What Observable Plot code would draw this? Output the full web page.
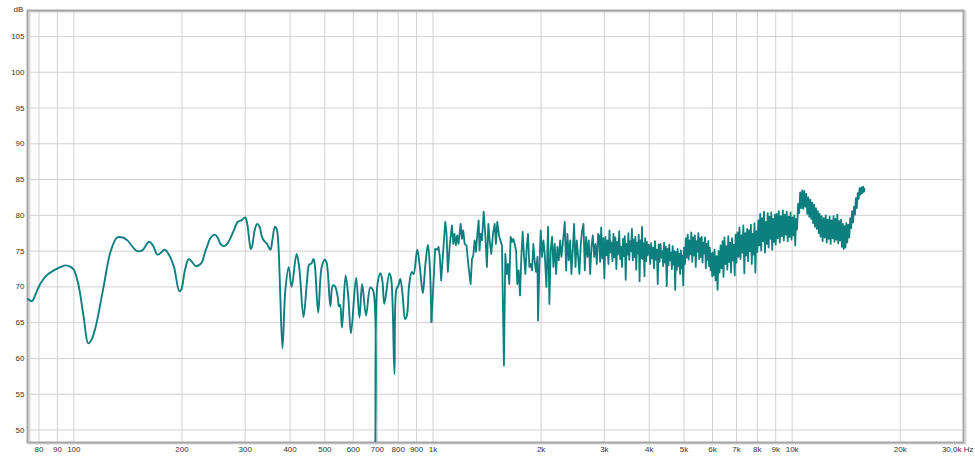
<!DOCTYPE html>
<html><head><meta charset="utf-8">
<script src="https://cdn.jsdelivr.net/npm/d3@7"></script>
<script src="https://cdn.jsdelivr.net/npm/@observablehq/plot@0.6"></script>
<style>html,body{margin:0;padding:0;background:#fff}</style>
</head><body><div id="chart"></div>
<script>
// Tick values and labels
const xTicks = [80,90,100,200,300,400,500,600,700,800,900,1000,2000,3000,4000,5000,6000,7000,8000,9000,10000,20000,30000];
const xTickLabels = ["80","90","100","200","300","400","500","600","700","800","900","1k","2k","3k","4k","5k","6k","7k","8k","9k","10k","20k","30,0k Hz"];
const yTicks = [50,55,60,65,70,75,80,85,90,95,100,105];
const yUnit = "dB";

// Frequency response: [Hz, dB]
const lowBand = [[74.5,68.3],[76.5,68.0],[78,68.8],[80,70.1],[84,71.6],[88,72.3],[92,72.8],[95,73.0],[98,72.8],[100,72.4],[103,70.3],[106.5,65.8],[109.7,62.1],[112,62.6],[115,64.4],[121,70.0],[126.5,74.9],[132,76.9],[137,76.9],[141,76.5],[150,75.0],[155,75.1],[162,76.3],[166,75.8],[171,74.5],[175,74.8],[179,75.2],[184,74.5],[190,72.8],[196.6,69.4],[199,69.6],[204,72.4],[209,73.9],[214,73.4],[218.5,72.9],[227,73.4],[231,74.6],[235.6,75.8],[240,76.8],[247,77.3],[252,76.8],[256,76.0],[261,75.7],[266,75.9],[271,76.5],[279,77.9],[286,79.1],[293,79.3],[300,79.7],[304,78.8],[308,76.5],[311,75.3],[314,75.8],[319,78.0],[324,78.8],[329,78.4],[334,77.0],[338,76.5],[345,76.0],[350,75.4],[353,75.2],[357,76.5],[363,78.4],[367,78.1],[371,76.0],[375,70.0],[381,61.4],[388,69.5],[396.5,72.8],[404,70.0],[417,74.6],[424,72.8],[436,65.8],[446,70.9],[452,73.1],[459,73.3],[465,73.9],[469,73.0],[479,66.4],[490,72.8],[500,73.8],[506,73.3],[518,67.3],[526,70.2],[533,70.1],[543,68.6],[547,67.3],[551,67.5],[558,64.3],[571,71.6],[581,68.6],[591,63.5],[611,71.3],[624,65.7],[635,70.4],[651,66.0],[669,69.9],[681,69.5],[691,46],[700,70.2],[714,71.9],[723,70.8],[732,67.6],[756,71.9],[765,71.1],[781,57.8],[791,69.7],[800,70.1],[811,71.1],[824,68.6],[836,65.5],[846,66.0],[858,70.2],[873,72.1],[883,71.8],[904,75.2],[919,72.8],[937,69.1],[951,72.8],[968,75.9],[980,72.8],[990,65.1]];

const midBand = [[990,65.1],[1006,71.8],[1014,75.3],[1027,75.2],[1036,75.6],[1045,74.2],[1054,70.9],[1068,75.1],[1082,79.1],[1091,77.4],[1100,72.1],[1114,76.0],[1129,78.6],[1139,76.0],[1148,77.4],[1158,75.8],[1168,77.2],[1178,76.0],[1194,78.8],[1204,76.7],[1214,77.9],[1225,76.0],[1240,75.8],[1256,72.8],[1273,70.4],[1284,73.9],[1295,74.4],[1306,76.5],[1317,74.9],[1328,77.2],[1340,79.3],[1348,75.1],[1357,77.4],[1369,76.5],[1384,80.5],[1398,77.4],[1413,72.8],[1426,78.8],[1438,76.5],[1453,74.6],[1469,77.4],[1485,78.8],[1497,76.0],[1510,79.1],[1527,77.2],[1540,76.5],[1556,75.8],[1576,59.0],[1590,74.6],[1604,71.8],[1617,73.2],[1631,70.4],[1645,77.0],[1660,76.3],[1674,76.7],[1688,76.0],[1703,75.1],[1717,70.4],[1732,72.3],[1747,68.8],[1762,74.2],[1777,77.7],[1793,74.2],[1808,71.8],[1824,75.6],[1839,77.4],[1855,72.8],[1871,73.2],[1887,72.3],[1903,76.0],[1920,73.5],[1936,72.1],[1953,74.2],[1961,65.3],[1978,72.8],[1995,77.9],[2012,74.2],[2030,76.5],[2047,74.6],[2069,70.0],[2091,78.4],[2109,67.6],[2127,75.1],[2146,77.0],[2164,72.8],[2183,76.0],[2202,71.8],[2220,75.6],[2240,73.7],[2259,76.5],[2278,74.2],[2298,76.0],[2328,79.1],[2348,72.3],[2368,77.4],[2388,73.7],[2409,76.5],[2429,71.8],[2450,75.1],[2471,78.8],[2493,72.8],[2514,76.5],[2536,74.2],[2557,71.8],[2579,76.0],[2602,77.9],[2624,78.8],[2647,72.3],[2669,77.0],[2692,74.2],[2715,76.5],[2739,71.8],[2762,75.6],[2786,77.2],[2810,74.2],[2834,76.0],[2858,73.2],[2883,77.4]];

const upperMidBand = [[2900,77.2],[2920,73.5],[2940,78.3],[2960,74.0],[2980,76.8],[3000,71.2],[3020,77.0],[3040,74.4],[3060,76.5],[3080,73.2],[3100,77.9],[3120,74.8],[3140,76.2],[3160,73.6],[3180,77.4],[3200,74.1],[3220,76.9],[3240,72.5],[3260,76.3],[3280,74.6],[3300,77.8],[3320,73.9],[3340,75.6],[3360,72.8],[3380,76.7],[3400,74.3],[3420,77.1],[3440,71.0],[3460,76.0],[3480,74.5],[3500,77.5],[3520,73.8],[3540,76.4],[3560,75.0],[3580,78.1],[3600,73.7],[3620,76.6],[3640,74.2],[3660,77.0],[3680,72.4],[3700,76.2],[3720,74.7],[3740,77.3],[3760,70.8],[3780,76.5],[3800,74.0],[3820,78.4],[3840,73.9],[3860,76.1],[3880,71.5],[3900,76.8],[3920,73.6],[3940,76.3],[3960,74.4],[3980,75.9]];

const highBand = [[4000,75.8],[4025,73.2],[4050,76.1],[4075,74.0],[4100,75.5],[4125,72.6],[4150,76.4],[4175,73.8],[4200,75.2],[4225,70.4],[4250,75.9],[4275,73.5],[4300,76.0],[4325,74.1],[4350,75.0],[4375,72.9],[4400,76.2],[4425,73.4],[4450,75.6],[4475,70.1],[4500,75.3],[4525,73.0],[4550,75.9],[4575,73.7],[4600,74.8],[4625,72.5],[4650,75.7],[4675,73.1],[4700,75.0],[4725,69.6],[4750,74.9],[4775,72.4],[4800,75.3],[4825,72.9],[4850,74.6],[4875,71.8],[4900,75.1],[4925,72.6],[4950,74.4],[4975,70.2],
[5000,75.5],[5030,73.2],[5060,76.8],[5090,74.1],[5120,77.3],[5150,73.8],[5180,76.5],[5210,74.6],[5240,77.6],[5270,73.5],[5300,76.9],[5330,74.4],[5360,77.2],[5390,72.8],[5420,76.4],[5450,74.9],[5480,77.5],[5510,73.9],[5540,76.8],[5570,74.2],[5600,77.0],[5630,73.4],[5660,76.2],[5690,74.7],[5720,76.9],[5750,72.6],[5780,76.0],[5810,73.8],[5840,76.4],[5870,72.9],[5900,75.5],[5930,72.3],[5960,74.6],[5990,71.5],
[6000,74.8],[6040,71.6],[6080,75.2],[6120,70.9],[6160,74.3],[6200,69.6],[6240,75.0],[6280,72.0],[6320,75.8],[6360,72.6],[6400,76.4],[6440,71.4],[6480,76.9],[6520,73.2],[6560,75.7],[6600,72.4],[6640,77.1],[6680,73.5],[6720,76.2],[6760,72.0],[6800,76.8],[6840,73.7],[6880,75.9],[6920,71.6],[6960,77.3],
[7000,73.4],[7045,77.6],[7090,74.2],[7135,78.3],[7180,73.9],[7225,77.2],[7270,74.8],[7315,78.6],[7360,71.9],[7405,77.5],[7450,74.4],[7495,78.1],[7540,73.6],[7585,77.9],[7630,75.0],[7675,78.7],[7720,73.2],[7765,77.4],[7810,74.5],[7855,78.9],[7900,72.0],[7945,77.8],
[8000,74.9],[8050,79.3],[8100,75.8],[8150,80.2],[8200,75.1],[8250,79.6],[8300,76.4],[8350,80.5],[8400,74.8],[8450,79.1],[8500,76.0],[8550,80.3],[8600,75.5],[8650,79.8],[8700,76.7],[8750,80.4],[8800,75.2],[8850,79.5],[8900,76.3],[8950,80.1],
[9000,75.9],[9060,80.2],[9120,76.8],[9180,80.6],[9240,76.2],[9300,79.9],[9360,77.1],[9420,80.7],[9480,76.5],[9540,80.1],[9600,77.3],[9660,80.5],[9720,76.4],[9780,79.8],[9840,77.0],[9900,80.4],[9960,76.6],[10020,79.7],[10080,77.2],[10140,80.0],[10200,75.8],[10260,79.5],
[10320,78.0],[10390,81.6],[10460,80.3],[10530,83.2],[10600,81.0],[10670,83.5],[10740,80.9],[10810,83.4],[10880,81.2],[10950,83.0],[11020,80.2],[11090,82.5],[11160,79.8],[11230,82.2],[11300,79.5],[11370,81.8],[11440,78.9],[11510,81.5],[11580,78.4],[11650,81.0],[11720,78.1],[11790,80.6],[11860,77.5],[11930,80.2],[12000,77.0],
[12080,79.9],[12160,76.4],[12240,79.6],[12320,76.9],[12400,80.0],[12480,76.2],[12560,79.4],[12640,76.7],[12720,79.8],[12800,76.0],[12880,79.3],[12960,76.8],[13040,79.9],[13120,76.3],[13200,79.5],[13280,76.6],[13360,80.1],[13440,76.1],[13520,79.2],[13600,76.5],[13680,79.4],[13760,75.6],[13840,78.8],[13920,75.3],[14000,78.5],[14080,75.5],[14160,78.9],
[14240,76.2],[14330,78.7],[14420,76.9],[14510,79.6],[14600,78.2],[14690,80.6],[14780,79.0],[14870,81.2],[14960,80.1],[15050,82.4],[15140,81.0],[15230,83.1],[15320,82.3],[15410,83.8],[15500,82.9],[15590,83.9],[15680,83.1],[15770,84.0],[15860,83.3],[15900,83.7]];

const lineColor = "#0d7f7f";
const gridColor = "#d2d2d2";
const labelOf = new Map(xTicks.map((t, i) => [t, xTickLabels[i]]));
const lastTick = xTicks[xTicks.length - 1];
const innerTicks = xTicks.filter(t => t !== lastTick);

const chart = Plot.plot({
  width: 975,
  height: 456,
  marginLeft: 27,
  marginRight: 12,
  marginTop: 10,
  marginBottom: 14,
  style: {fontFamily: "'Liberation Sans', Arial, sans-serif", fontSize: "8px", color: "#333", background: "#fff"},
  x: {type: "log", domain: [74.3, 30000], axis: null},
  y: {domain: [48.25, 108.63]},
  marks: [
    Plot.gridX(xTicks, {stroke: gridColor, strokeOpacity: 1}),
    Plot.gridY(yTicks, {stroke: gridColor, strokeOpacity: 1}),
    Plot.frame({stroke: "#d8d8d8", strokeWidth: 2, dx: 2, dy: 1}),
    Plot.frame({stroke: "#a6a6a6", strokeWidth: 2}),
    Plot.line(lowBand, {x: d => d[0], y: d => d[1], stroke: lineColor, strokeWidth: 1.9, curve: "catmull-rom", clip: true}),
    Plot.line(midBand.concat(upperMidBand, highBand), {x: d => d[0], y: d => d[1], stroke: lineColor, strokeWidth: 1.8, strokeLinejoin: "round", clip: true}),
    Plot.axisY(yTicks, {tickSize: 0, tickPadding: 3, label: null, fill: "#333"}),
    Plot.text(innerTicks, {x: d => d, frameAnchor: "bottom", lineAnchor: "top", textAnchor: "middle", dy: 4, text: d => labelOf.get(d), fill: "#333"}),
    Plot.text([lastTick], {x: d => d, frameAnchor: "bottom", lineAnchor: "top", textAnchor: "end", dx: 10, dy: 4, text: d => labelOf.get(d), fill: "#333"}),
    Plot.text([yUnit], {frameAnchor: "top-left", textAnchor: "middle", dx: -9, dy: -4, text: d => d, fill: "#333"})
  ]
});
document.getElementById("chart").appendChild(chart);
</script>
</body></html>
